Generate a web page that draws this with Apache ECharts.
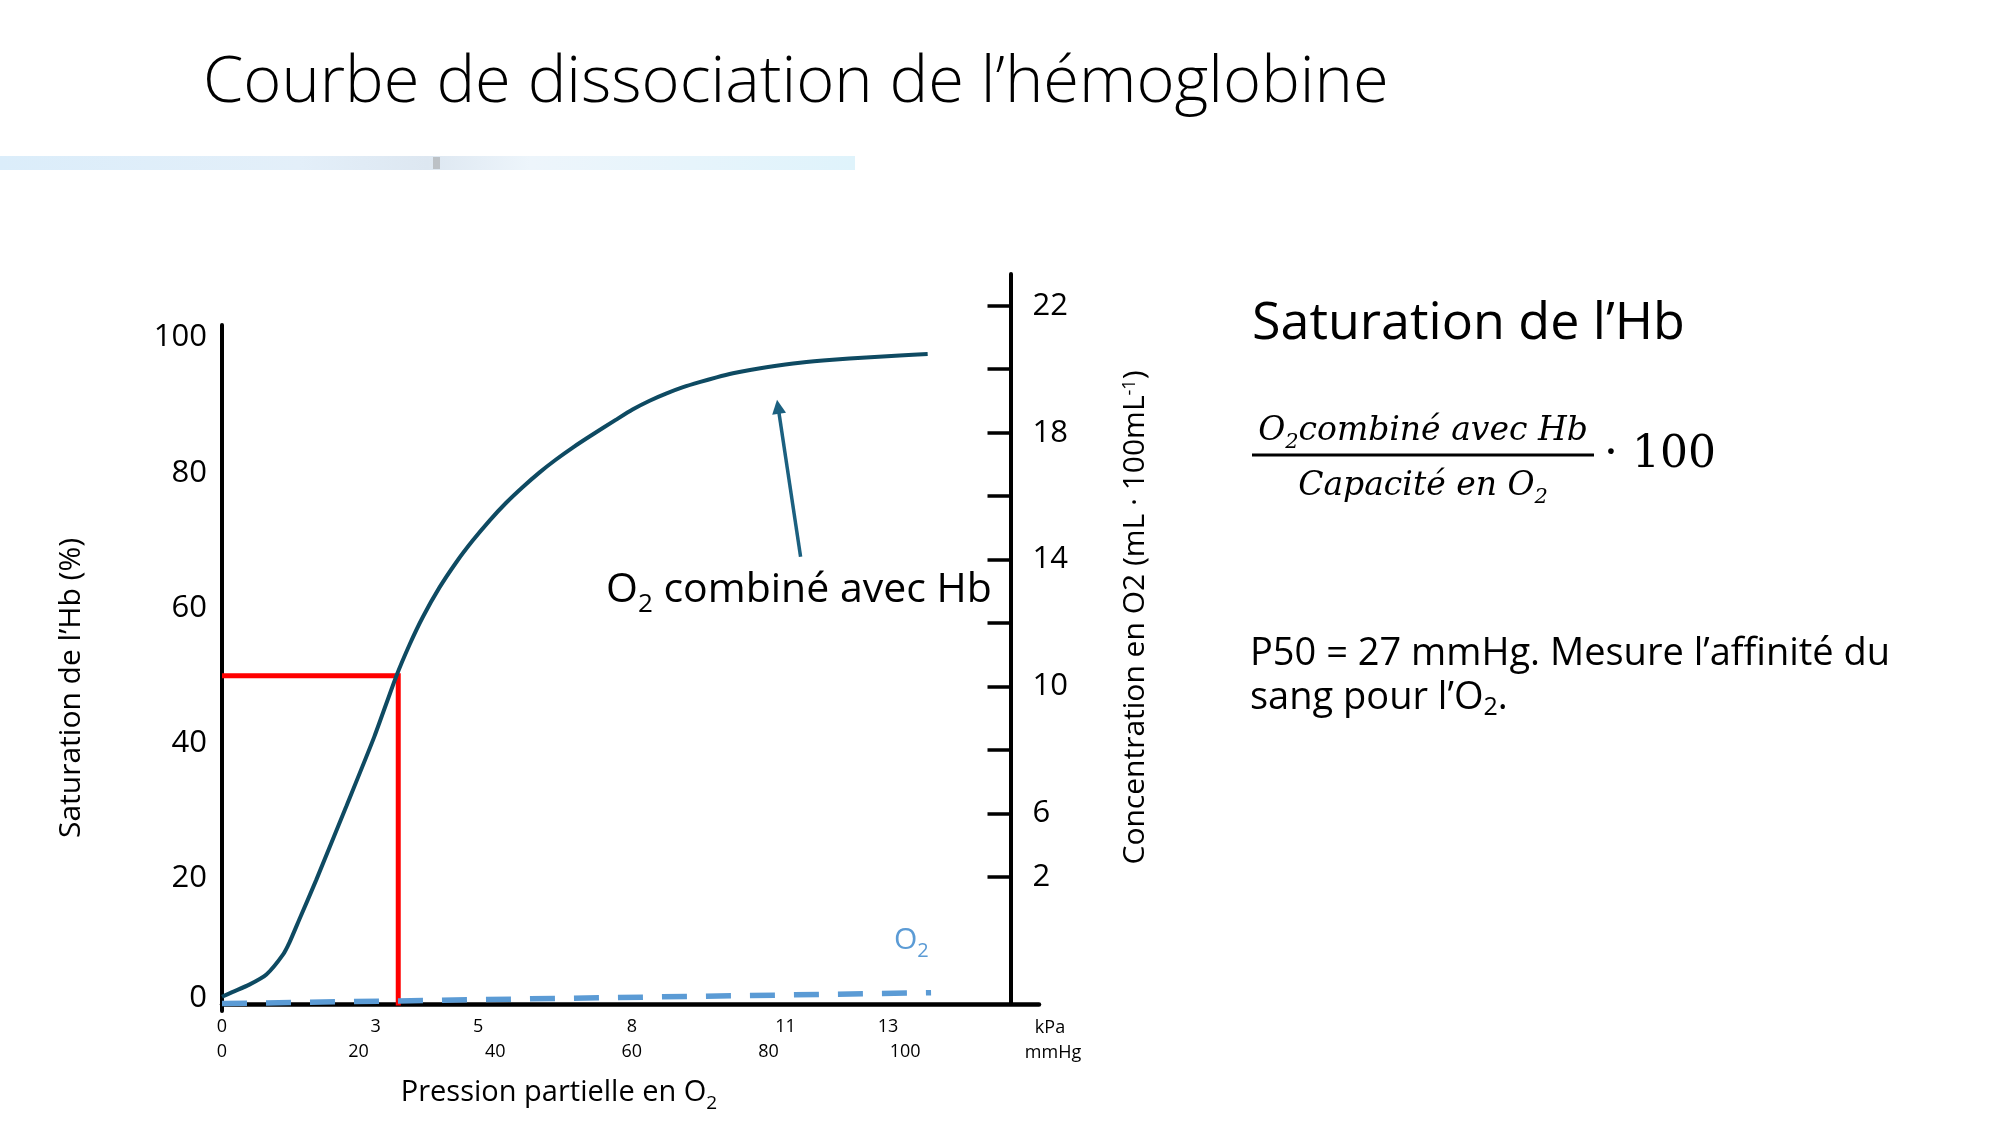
<!DOCTYPE html>
<html>
<head>
<meta charset="utf-8">
<script src="https://cdn.jsdelivr.net/npm/echarts@6/dist/echarts.min.js"></script>
<style>
html,body{margin:0;padding:0;background:#fff;}
#chart{width:2000px;height:1125px;}
</style>
</head>
<body>
<div id="chart"></div>
<script>
// ---- data ----
const mmHgTicks = [0, 20, 40, 60, 80, 100];
const kPaTicks = [0, 3, 5, 8, 11, 13];
const concTicks = [4, 6, 8, 10, 12, 14, 16, 18, 20, 22];
const concTickLabels = ['2', '6', '', '10', '', '14', '', '18', '', '22']; // as printed in the source

// Hb saturation curve (PO2 in mmHg, saturation in %)
const hbPO2 = [0, 1.5, 4.0, 6.5, 8.9, 9.9, 11.3, 13.8, 18.2, 22.3, 25.5, 27.5, 29.4, 31.8, 34.3, 36.7, 39.2, 41.6, 44.0, 46.5, 48.9, 51.4, 53.8, 57.7, 60.1, 62.6, 65.0, 67.5, 69.9, 72.4, 74.8, 77.3, 79.7, 84.6, 89.4, 94.3, 99.2, 103.3];
const hbSat = [2.1, 2.8, 3.9, 5.4, 8.3, 10.2, 13.5, 19.4, 30.3, 40.6, 49.5, 54.3, 58.3, 62.6, 66.4, 69.6, 72.6, 75.2, 77.5, 79.7, 81.6, 83.4, 85.0, 87.5, 89.0, 90.3, 91.35, 92.3, 93.05, 93.75, 94.35, 94.85, 95.25, 95.9, 96.35, 96.7, 97.0, 97.2];

// dissolved O2 line
const o2PO2 = [0, 103.8];
const o2Sat = [1.1, 2.7];

// P50 guide
const p50PO2 = [0, 25.8, 25.8];
const p50Sat = [49.6, 49.6, 0.8];

// annotation arrow (data units)
const arrowFrom = [84.7, 67.2];
const arrowTo = [81.4, 89.4];

const MMHG_PER_KPA = 7.50062;
const X_MAX = 119.6;

const zip = (a, b) => a.map((v, i) => [v, b[i]]);

const SANS = '"Open Sans", "Noto Sans", sans-serif';
const SERIF = '"DejaVu Serif", "Liberation Serif", serif';
const subRich = (fs, color) => ({ s: { fontSize: Math.round(fs * 0.65), verticalAlign: 'bottom', lineHeight: Math.round(fs * 0.65), fontFamily: SANS, color: color } });

const chart = echarts.init(document.getElementById('chart'));

const option = {
  animation: false,
  backgroundColor: '#ffffff',
  grid: [
    { left: 222, width: 817, top: 325, bottom: 114 },
    { left: 900, width: 110.5, top: 274, bottom: 121 }
  ],
  xAxis: [
    {
      gridIndex: 0, type: 'value', min: 0, max: X_MAX, position: 'bottom', offset: -7,
      axisLine: { show: true, onZero: false, lineStyle: { color: '#000', width: 4.5 } },
      axisTick: { show: false }, splitLine: { show: false },
      axisLabel: { customValues: mmHgTicks, margin: 39, fontSize: 18, fontFamily: SANS, color: '#000' },
      name: 'Pression partielle en O{s|2}', nameLocation: 'middle', nameGap: 69,
      nameTextStyle: { fontSize: 29, fontFamily: SANS, color: '#000', lineHeight: 40, padding: [0, 143, 0, 0], rich: subRich(29, '#000') }
    },
    {
      gridIndex: 0, type: 'value', min: 0, max: X_MAX / MMHG_PER_KPA, position: 'bottom', offset: -7,
      axisLine: { show: false, onZero: false }, axisTick: { show: false }, splitLine: { show: false },
      axisLabel: { customValues: kPaTicks, margin: 14, fontSize: 18, fontFamily: SANS, color: '#000' }
    },
    { gridIndex: 1, type: 'value', show: false, min: 0, max: 1 }
  ],
  yAxis: [
    {
      gridIndex: 0, type: 'value', min: 0, max: 101.5, interval: 20, position: 'left',
      axisLine: { show: true, onZero: false, lineStyle: { color: '#000', width: 4 } },
      axisTick: { show: false }, splitLine: { show: false },
      axisLabel: {
        showMaxLabel: false, margin: 15, fontSize: 31, fontFamily: SANS, color: '#000',
        formatter: v => (v === 0 ? '{z|0}' : '{n|' + v + '}'),
        rich: {
          z: { fontSize: 31, fontFamily: SANS, color: '#000', padding: [0, 0, 26, 0] },
          n: { fontSize: 31, fontFamily: SANS, color: '#000', padding: [5, 0, 0, 0] }
        }
      },
      name: 'Saturation de l’Hb (%)', nameLocation: 'middle', nameRotate: 90, nameGap: 136,
      nameTextStyle: { fontSize: 30, fontFamily: SANS, color: '#000', padding: [0, 40, 0, 0] }
    },
    {
      gridIndex: 1, type: 'value', min: 0, max: 23, position: 'right',
      axisLine: { show: true, onZero: false, lineStyle: { color: '#000', width: 4 } },
      axisTick: { show: true, inside: true, length: 23, customValues: concTicks, lineStyle: { color: '#000', width: 3.5 } },
      splitLine: { show: false },
      axisLabel: {
        customValues: concTicks, margin: 22, fontSize: 31, fontFamily: SANS, color: '#000',
        formatter: v => { const i = concTicks.indexOf(Math.round(v)); return i >= 0 ? concTickLabels[i] : ''; }
      },
      name: 'Concentration en O2 (mL · 100mL{u|-1})', nameLocation: 'middle', nameRotate: 90, nameGap: 110,
      nameTextStyle: { fontSize: 30, fontFamily: SANS, color: '#000', padding: [0, 0, 0, 43],
        rich: { u: { fontSize: 18, verticalAlign: 'top', lineHeight: 18, fontFamily: SANS, color: '#000' } } }
    }
  ],
  series: [
    {
      name: 'P50', type: 'line', xAxisIndex: 0, yAxisIndex: 0,
      data: zip(p50PO2, p50Sat), showSymbol: false, silent: true,
      lineStyle: { color: '#ff0000', width: 5, join: 'miter' }, z: 2
    },
    {
      name: 'O2 dissous', type: 'line', xAxisIndex: 0, yAxisIndex: 0,
      data: zip(o2PO2, o2Sat), showSymbol: false, silent: true,
      lineStyle: { color: '#5b9bd5', width: 5.5, type: [25, 19], cap: 'butt' }, z: 3
    },
    {
      name: 'O2 combiné avec Hb', type: 'line', xAxisIndex: 0, yAxisIndex: 0,
      data: zip(hbPO2, hbSat), showSymbol: false, smooth: 0.2, silent: true,
      lineStyle: { color: '#0e4a62', width: 4 }, z: 4,
      markLine: {
        silent: true, symbol: ['none', 'triangle'], symbolSize: [14, 14],
        label: { show: false },
        lineStyle: { color: '#1b6080', width: 3.5, type: 'solid' },
        emphasis: { disabled: true },
        data: [[{ coord: arrowFrom }, { coord: arrowTo }]]
      }
    }
  ],
  graphic: [
    {
      type: 'rect', left: 0, top: 156, silent: true,
      shape: { width: 855, height: 14 },
      style: { fill: new echarts.graphic.LinearGradient(0, 0, 1, 0, [
        { offset: 0, color: '#dbedfa' }, { offset: 0.35, color: '#e3eff9' },
        { offset: 0.5, color: '#dde7f1' }, { offset: 0.62, color: '#edf5fb' },
        { offset: 1, color: '#dff3fb' }]) }
    },
    { type: 'rect', left: 433, top: 157, silent: true, shape: { width: 7, height: 12 }, style: { fill: '#9a9a9a', opacity: 0.5 } },
    {
      type: 'text', left: 203, top: 51, silent: true,
      style: { text: 'Courbe de dissociation de l’hémoglobine', font: '300 65px ' + SANS, fill: '#000' }
    },
    {
      type: 'text', x: 1252, y: 324, silent: true,
      style: { text: 'Saturation de l’Hb', font: '400 52px ' + SANS, fill: '#000', verticalAlign: 'middle' }
    },
    {
      type: 'text', x: 1423, y: 431, silent: true,
      style: { text: 'O{s|2}combiné avec Hb', font: 'italic 33px ' + SERIF, fill: '#000', align: 'center', verticalAlign: 'middle', lineHeight: 44,
        rich: { s: { font: 'italic 21px ' + SERIF, verticalAlign: 'bottom', lineHeight: 21, fill: '#000' } } }
    },
    { type: 'rect', left: 1252, top: 453.5, silent: true, shape: { width: 342, height: 3 }, style: { fill: '#000' } },
    {
      type: 'text', x: 1423, y: 486, silent: true,
      style: { text: 'Capacité en O{s|2}', font: 'italic 33px ' + SERIF, fill: '#000', align: 'center', verticalAlign: 'middle', lineHeight: 44,
        rich: { s: { font: 'italic 21px ' + SERIF, verticalAlign: 'bottom', lineHeight: 21, fill: '#000' } } }
    },
    {
      type: 'text', x: 1604, y: 456, silent: true,
      style: { text: '· 100', font: '44px ' + SERIF, fill: '#000', verticalAlign: 'middle' }
    },
    {
      type: 'text', x: 1250, y: 676, silent: true,
      style: { text: 'P50 = 27 mmHg. Mesure l’affinité du\nsang pour l’O{s|2}.', font: '38px ' + SANS, fill: '#000', verticalAlign: 'middle', lineHeight: 44,
        rich: { s: { font: '25px ' + SANS, verticalAlign: 'bottom', lineHeight: 25, fill: '#000' } } }
    },
    {
      type: 'text', x: 606, y: 590, silent: true,
      style: { text: 'O{s|2} combiné avec Hb', font: '41px ' + SANS, fill: '#000', verticalAlign: 'middle', lineHeight: 56,
        rich: { s: { font: '26px ' + SANS, verticalAlign: 'bottom', lineHeight: 26, fill: '#000' } } }
    },
    {
      type: 'text', x: 894, y: 940, silent: true,
      style: { text: 'O{s|2}', font: '30px ' + SANS, fill: '#5b9bd5', verticalAlign: 'middle', lineHeight: 42,
        rich: { s: { font: '20px ' + SANS, verticalAlign: 'bottom', lineHeight: 20, fill: '#5b9bd5' } } }
    },
    { type: 'text', x: 1050, y: 1028, silent: true, style: { text: 'kPa', font: '18px ' + SANS, fill: '#000', align: 'center', verticalAlign: 'middle' } },
    { type: 'text', x: 1053, y: 1053, silent: true, style: { text: 'mmHg', font: '18px ' + SANS, fill: '#000', align: 'center', verticalAlign: 'middle' } }
  ]
};

chart.setOption(option);
</script>
</body>
</html>
